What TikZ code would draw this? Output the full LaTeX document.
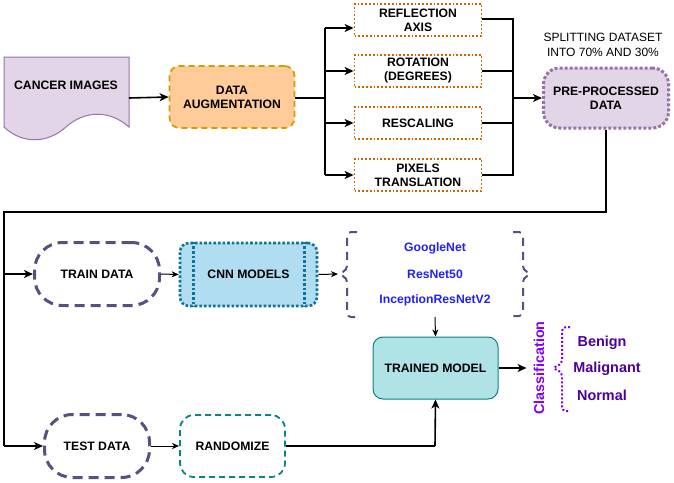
\documentclass[tikz,border=0pt]{standalone}
\usepackage{fontspec}
\setmainfont{Liberation Sans}
\usetikzlibrary{arrows.meta}
\definecolor{docfill}{HTML}{E1D5E7}
\definecolor{docline}{HTML}{9673A6}
\definecolor{augfill}{HTML}{FFCC99}
\definecolor{augline}{HTML}{D79B00}
\definecolor{tfline}{HTML}{CC6600}
\definecolor{dataline}{HTML}{56517E}
\definecolor{cnnfill}{HTML}{B1DDF0}
\definecolor{cnnline}{HTML}{10739E}
\definecolor{tealline}{HTML}{0E8088}
\definecolor{tealfill}{HTML}{B0E3E6}
\definecolor{netblue}{HTML}{1F1FFF}
\definecolor{clsviolet}{HTML}{7F00FF}
\definecolor{clsdark}{HTML}{4C0099}
\tikzset{
  lbl/.style={font=\bfseries\fontsize{12.2}{14}\selectfont, align=center, inner sep=0pt},
  tfbox/.style={lbl, draw=tfline, line width=1.8pt, dotted, fill=white, minimum width=127pt, minimum height=32pt},
  databox/.style={lbl, draw=dataline, line width=3pt, dash pattern=on 10pt off 6pt, rounded corners=28pt, minimum width=125pt, minimum height=63pt},
  conn/.style={line width=1.6pt},
  bigarrow/.style={conn, -{Stealth[length=9pt,width=8pt,inset=2.5pt]}},
  thinarrow/.style={line width=1pt, -{Stealth[length=7pt,width=6pt,inset=2pt]}},
  netlbl/.style={font=\bfseries\fontsize{12.2}{14}\selectfont, text=netblue, inner sep=0pt},
  clslbl/.style={font=\bfseries\fontsize{14.4}{16}\selectfont, text=clsdark, inner sep=0pt},
}
\begin{document}
\begin{tikzpicture}[x=1pt,y=-1pt]
\useasboundingbox (0,0) rectangle (674,482);
% cancer images document
\draw[docline, fill=docfill, line width=1pt] (4,57) -- (129,57) -- (129,127)
  .. controls (110,110) and (85,110) .. (66,127)
  .. controls (47,144) and (22,144) .. (4,127) -- cycle;
\node[lbl, font=\bfseries\fontsize{12.2}{14}\selectfont] (cancer) at (66,85) {CANCER IMAGES};
\coordinate (cancerR) at (129,98);
% data augmentation
\node[lbl, draw=augline, fill=augfill, line width=1.8pt, dash pattern=on 6pt off 4pt, rounded corners=10pt, minimum width=125pt, minimum height=62pt] (aug) at (232,97) {DATA\\AUGMENTATION};
\draw[bigarrow] (cancerR) -- (aug.west);
% transformation boxes
\node[tfbox] (t1) at (418,20) {REFLECTION\\AXIS};
\node[tfbox] (t2) at (418,71) {ROTATION\\(DEGREES)};
\node[tfbox] (t3) at (418,123) {RESCALING};
\node[tfbox] (t4) at (418,175) {PIXELS\\TRANSLATION};
\coordinate (lbarT) at (325,28);
\coordinate (lbarB) at (325,175);
\coordinate (lbarM) at (325,98);
\draw[conn] (aug.east |- lbarM) -- (lbarM);
\draw[conn] (lbarT) -- (lbarB);
\draw[bigarrow] (lbarT) -- (lbarT -| t1.west);
\draw[bigarrow] (lbarT |- t2.west) -- (t2.west);
\draw[bigarrow] (lbarT |- t3.west) -- (t3.west);
\draw[bigarrow] (lbarB) -- (lbarB -| t4.west);
\coordinate (rbarT) at (513,19);
\coordinate (rbarB) at (513,175);
\coordinate (rbarM) at (513,98);
\draw[conn] (rbarT -| t1.east) -- (rbarT) -- (rbarB) -- (rbarB -| t4.east);
\draw[conn] (t2.east) -- (t2.east -| rbarT);
\draw[conn] (t3.east) -- (t3.east -| rbarT);
% pre-processed
\node[lbl, draw=docline, fill=docfill, line width=3pt, dotted, rounded corners=16pt, minimum width=125pt, minimum height=60pt] (pre) at (606,98) {PRE-PROCESSED\\DATA};
\draw[bigarrow] (rbarM) -- (pre.west);
\node[font=\fontsize{12}{15}\selectfont, align=center, inner sep=0pt] (split) at (603,45) {SPLITTING DATASET\\INTO 70\% AND 30\%};
% train / test
\node[databox] (train) at (97,274) {TRAIN DATA};
\node[databox, minimum width=105pt] (test) at (97,446) {TEST DATA};
\coordinate (turnR) at (606,212);
\coordinate (turnL) at (4,212);
\draw[conn] (pre.south) -- (turnR) -- (turnL) -- (turnL |- test.west);
\draw[bigarrow] (turnL |- test.west) -- (test.west);
\draw[bigarrow] (turnL |- train.west) -- (train.west);
% CNN models
\node[lbl, draw=cnnline, fill=cnnfill, line width=2.6pt, dotted, rounded corners=9pt, minimum width=137pt, minimum height=63pt] (cnn) at (248.5,274.5) {CNN MODELS};
\draw[cnnline, line width=2.6pt, dotted] ([xshift=15pt]cnn.north west) -- ([xshift=15pt]cnn.south west);
\draw[cnnline, line width=2.6pt, dotted] ([xshift=-14pt]cnn.north east) -- ([xshift=-14pt]cnn.south east);
\draw[thinarrow] (train.east) -- (cnn.west);
% randomize
\node[lbl, draw=tealline, line width=1.8pt, dash pattern=on 6pt off 4pt, rounded corners=14pt, minimum width=105pt, minimum height=62pt] (rand) at (232.5,446) {RANDOMIZE};
\draw[thinarrow] (test.east) -- (rand.west);
% network brace
\coordinate (brL) at (338,274);
\coordinate (brR) at (532,274);
\draw[dataline, line width=2pt, dash pattern=on 8pt off 6pt, rounded corners=4pt]
  (357,232) -- (347,232) -- (347,270) -- (brL) -- (347,278) -- (347,317) -- (355,317);
\draw[dataline, line width=2pt, dash pattern=on 8pt off 6pt, rounded corners=4pt]
  (513,232) -- (523,232) -- (523,270) -- (brR) -- (523,278) -- (523,316) -- (513,316);
\node[netlbl] (gnet) at (435,248) {GoogleNet};
\node[netlbl] (rnet) at (435,274) {ResNet50};
\node[netlbl] (inet) at (435,300) {InceptionResNetV2};
\draw[thinarrow] (cnn.east) -- (brL);
% trained model
\node[lbl, draw=tealline, fill=tealfill, line width=1pt, rounded corners=10pt, minimum width=125pt, minimum height=62pt] (trained) at (435.5,368) {TRAINED MODEL};
\coordinate (brB) at (435,317);
\draw[thinarrow] (brB) -- (trained.north);
\coordinate (randTurn) at (435,446);
\draw[conn] (rand.east) -- (randTurn);
\draw[bigarrow] (randTurn) -- (trained.south);
% classification
\node[font=\bfseries\fontsize{14.3}{16}\selectfont, text=clsviolet, rotate=90, inner sep=0pt] (cls) at (539,368) {Classification};
\draw[bigarrow] (trained.east) -- ([xshift=-7pt]cls.north);
\coordinate (cbrL) at (552,368);
\draw[clsviolet, line width=2pt, dotted, rounded corners=4pt]
  (570,327) -- (562,327) -- (562,364) -- (cbrL) -- (562,372) -- (562,411) -- (570,411);
\node[clslbl] (benign) at (602,343) {Benign};
\node[clslbl] (malig) at (607,369) {Malignant};
\node[clslbl] (normal) at (602,395) {Normal};
\end{tikzpicture}
\end{document}
